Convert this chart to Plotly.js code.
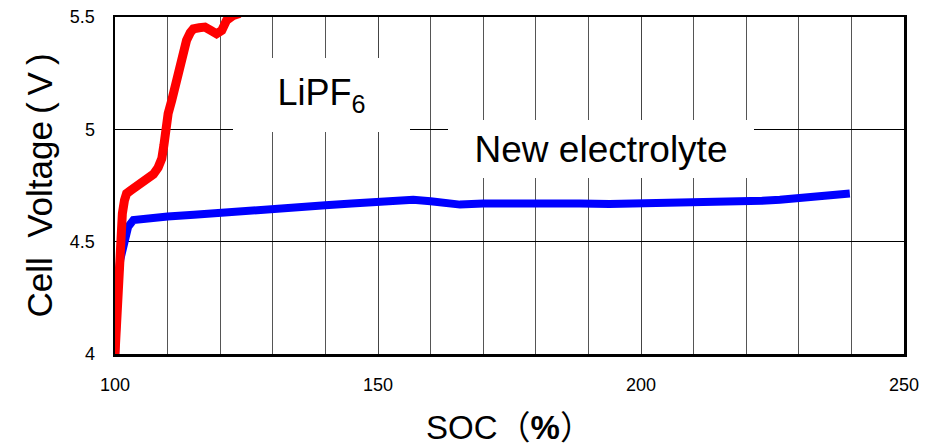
<!DOCTYPE html>
<html>
<head>
<meta charset="utf-8">
<script src="https://cdn.plot.ly/plotly-3.0.1.min.js"></script>
<style>html,body{margin:0;padding:0;background:#fff;}#chart{width:927px;height:446px;}</style>
</head>
<body>
<div id="chart"></div>
<script>
// LiPF6 electrolyte: SOC (%) vs cell voltage (V)
const lipf6SOC = [100.0, 100.2, 100.3, 100.45, 100.6, 100.8, 100.95, 101.15, 101.4, 101.8, 102.2, 103.0, 104.1, 105.0, 106.0, 107.3, 108.2, 108.9, 109.3, 109.6, 110.1, 110.8, 111.5, 112.2, 112.9, 113.6, 114.3, 114.9, 116.0, 117.1, 118.2, 119.3, 120.3, 121.2, 122.5, 123.4, 124.2];
const lipf6V   = [4.00, 4.10, 4.24, 4.32, 4.39, 4.47, 4.536, 4.59, 4.625, 4.684, 4.714, 4.728, 4.744, 4.758, 4.773, 4.80, 4.83, 4.87, 4.93, 5.00, 5.07, 5.13, 5.20, 5.277, 5.34, 5.396, 5.43, 5.447, 5.452, 5.455, 5.44, 5.425, 5.44, 5.485, 5.507, 5.514, 5.54];
// New electrolyte
const newSOC = [100.0, 100.3, 100.6, 101.0, 101.6, 102.0, 102.5, 103.5, 106, 110, 115, 120, 125, 130, 135, 140, 145, 150, 153, 156.7, 160, 163, 165.6, 170, 175.7, 182, 188.4, 194, 201.1, 207, 213.7, 217, 220.1, 223, 226.4, 229.5, 232.7, 236, 239.7];
const newV   = [3.99, 4.2, 4.33, 4.42, 4.48, 4.53, 4.566, 4.596, 4.605, 4.612, 4.62, 4.63, 4.636, 4.643, 4.652, 4.662, 4.670, 4.677, 4.684, 4.687, 4.680, 4.670, 4.665, 4.670, 4.672, 4.668, 4.670, 4.668, 4.670, 4.669, 4.672, 4.674, 4.678, 4.682, 4.687, 4.694, 4.702, 4.708, 4.714];

const xTickVals = [100, 150, 200, 250];
const xTickText = ["100", "150", "200", "250"];
const yTickVals = [4, 4.5, 5, 5.5];
const yTickText = ["4", "4.5", "5", "5.5"];

const labelLiPF6 = "LiPF<sub>6</sub>";
const labelNew = "New electrolyte";
const xTitle = "SOC\uFF08<b>%</b>\uFF09";
const yTitle = "Cell\u00A0\u00A0Voltage\u2009(\u2009V\u2009)";

const FONT = "Liberation Sans, Arial, Noto Sans CJK JP, sans-serif";

const traces = [
  {x: newSOC, y: newV, type: "scatter", mode: "lines", name: labelNew,
   line: {color: "#0000ff", width: 8}},
  {x: lipf6SOC, y: lipf6V, type: "scatter", mode: "lines", name: "LiPF6",
   line: {color: "#ff0000", width: 9}}
];

const layout = {
  width: 927, height: 446,
  margin: {l: 115, r: 23, t: 17, b: 92},
  paper_bgcolor: "#fff", plot_bgcolor: "#fff",
  showlegend: false,
  font: {family: FONT, color: "#000"},
  xaxis: {
    range: [100, 250], tickvals: xTickVals, ticktext: xTickText,
    ticks: "", ticklabelstandoff: 13,
    tickfont: {size: 18, family: FONT, color: "#000"},
    showgrid: true, gridcolor: "#444", gridwidth: 1,
    minor: {dtick: 10, showgrid: true, gridcolor: "#555", gridwidth: 1},
    showline: true, mirror: true, linecolor: "#000", linewidth: 2.5,
    zeroline: false, fixedrange: true,
    title: {text: xTitle + "\u00A0\u00A0\u00A0", font: {size: 33, family: FONT, color: "#000"}, standoff: 22}
  },
  yaxis: {
    range: [4, 5.5], tickvals: yTickVals, ticktext: yTickText,
    ticks: "", ticklabelstandoff: 14,
    tickfont: {size: 18, family: FONT, color: "#000"},
    showgrid: true, gridcolor: "#000", gridwidth: 1,
    showline: true, mirror: true, linecolor: "#000", linewidth: 2.5,
    zeroline: false, fixedrange: true,
    title: {text: yTitle + "\u00A0", font: {size: 35, family: FONT, color: "#000"}, standoff: 7}
  },
  annotations: [
    {x: 139.3, y: 5.151, xref: "x", yref: "y", text: labelLiPF6, showarrow: false,
     font: {size: 36, family: FONT, color: "#000"}, bgcolor: "#fff",
     width: 177, height: 74, borderpad: 0, borderwidth: 0},
    {x: 192.4, y: 4.911, xref: "x", yref: "y", text: labelNew, showarrow: false,
     font: {size: 37, family: FONT, color: "#000"}, bgcolor: "#fff",
     width: 306, height: 58, borderpad: 0, borderwidth: 0}
  ]
};

Plotly.newPlot("chart", traces, layout, {displayModeBar: false, staticPlot: true});
</script>
</body>
</html>
